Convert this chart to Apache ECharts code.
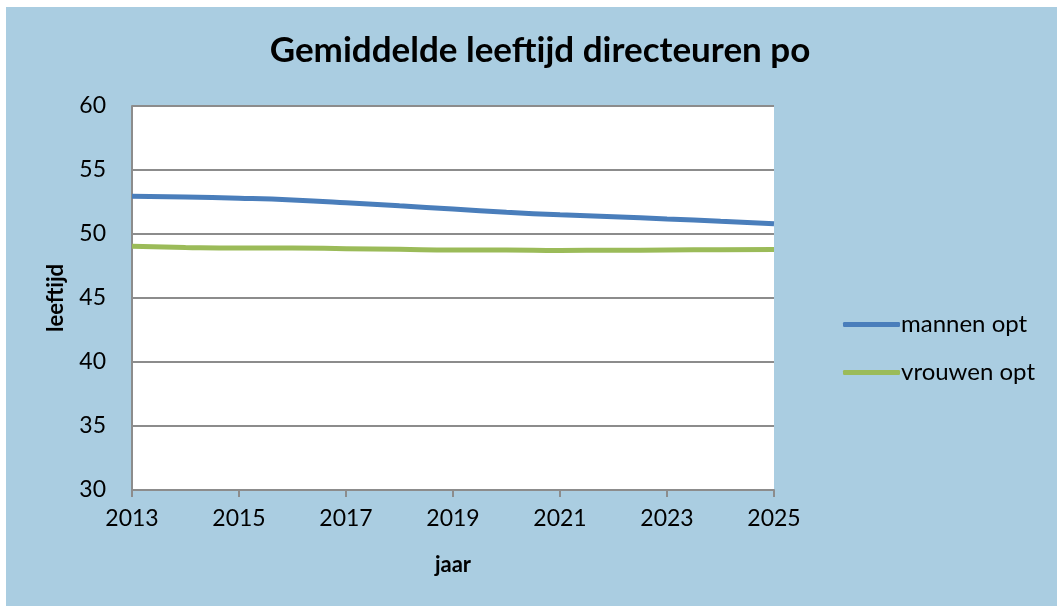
<!DOCTYPE html>
<html>
<head>
<meta charset="utf-8">
<script src="https://cdn.jsdelivr.net/npm/echarts@6/dist/echarts.min.js"></script>
<style>
    html, body { margin: 0; padding: 0; background: #ffffff; }
    #chart { position: absolute; left: 6px; top: 7px; width: 1051px; height: 599px; }
</style>
</head>
<body>
<div id="chart"></div>
<script>
    // jaren en gemiddelde leeftijd
    const years = ['2013', '2014', '2015', '2016', '2017', '2018', '2019',
                   '2020', '2021', '2022', '2023', '2024', '2025'];
    const mannenOpt = [52.95, 52.9, 52.8, 52.66, 52.45, 52.2, 51.95, 51.7, 51.5, 51.35, 51.17, 51.0, 50.8];
    const vrouwenOpt = [49.05, 48.95, 48.9, 48.9, 48.85, 48.8, 48.75, 48.75, 48.72, 48.73, 48.75, 48.77, 48.78];
    const seriesNames = ['mannen opt', 'vrouwen opt'];

    const fontFamily = 'Lato, "Open Sans", sans-serif';
    const gridColor = '#8c8c8c';

    const chart = echarts.init(document.getElementById('chart'));
    chart.setOption({
        backgroundColor: '#aacde1',
        animation: false,
        title: {
            text: 'Gemiddelde leeftijd directeuren po',
            left: 529,
            top: 21,
            textAlign: 'center',
            textStyle: {
                fontFamily: fontFamily,
                fontWeight: 'bold',
                fontSize: 35,
                color: '#000'
            }
        },
        legend: {
            orient: 'vertical',
            left: 832,
            top: 300,
            itemWidth: 57,
            itemHeight: 5,
            itemGap: 23,
            icon: 'roundRect',
            data: seriesNames,
            textStyle: {
                fontFamily: fontFamily,
                fontSize: 24,
                lineHeight: 25,
                color: '#000',
                padding: [0, 0, 0, -4]
            }
        },
        grid: {
            left: 126,
            top: 99,
            right: 283,
            bottom: 116,
            show: true,
            backgroundColor: '#ffffff',
            borderWidth: 0
        },
        xAxis: {
            type: 'category',
            data: years,
            boundaryGap: false,
            name: 'jaar',
            nameLocation: 'middle',
            nameGap: 64,
            nameTextStyle: {
                fontFamily: fontFamily,
                fontWeight: 'bold',
                fontSize: 22,
                color: '#000'
            },
            axisLine: { lineStyle: { color: gridColor, width: 2 } },
            axisTick: { interval: 1, length: 7, lineStyle: { color: gridColor, width: 2 } },
            axisLabel: {
                interval: 1,
                margin: 17,
                fontFamily: fontFamily,
                fontSize: 23,
                color: '#000'
            }
        },
        yAxis: {
            type: 'value',
            min: 30,
            max: 60,
            interval: 5,
            name: 'leeftijd',
            nameLocation: 'middle',
            nameGap: 65,
            nameTextStyle: {
                fontFamily: fontFamily,
                fontWeight: 'bold',
                fontSize: 22,
                color: '#000'
            },
            axisLine: { show: true, lineStyle: { color: gridColor, width: 2 } },
            axisTick: { show: false },
            axisLabel: {
                margin: 26,
                fontFamily: fontFamily,
                fontSize: 23,
                color: '#000'
            },
            splitLine: { lineStyle: { color: gridColor, width: 2 } }
        },
        series: [
            {
                name: seriesNames[0],
                type: 'line',
                data: mannenOpt,
                smooth: true,
                symbol: 'none',
                color: '#4a7ebb',
                lineStyle: { width: 5 }
            },
            {
                name: seriesNames[1],
                type: 'line',
                data: vrouwenOpt,
                smooth: true,
                symbol: 'none',
                color: '#9bbb59',
                lineStyle: { width: 5 }
            }
        ]
    });
</script>
</body>
</html>
